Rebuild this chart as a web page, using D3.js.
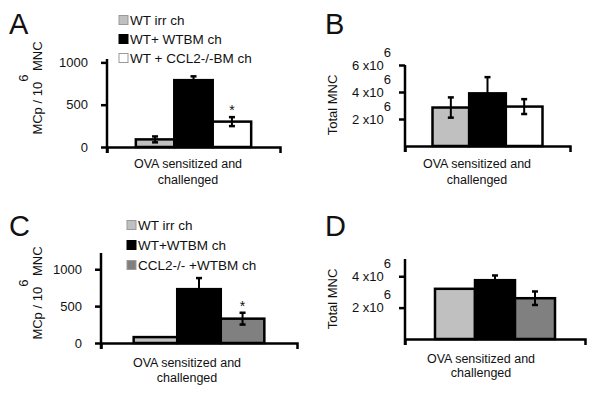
<!DOCTYPE html>
<html>
<head>
<meta charset="utf-8">
<script src="https://cdn.jsdelivr.net/npm/d3@7"></script>
<style>
  body { margin: 0; background: #fff; }
  svg text { font-family: "Liberation Sans", Arial, Helvetica, sans-serif; fill: #111; }
</style>
</head>
<body>
<div class="container"></div>
<script>
// groups (legend entries)
const groupsAB = ['WT irr ch', 'WT+ WTBM ch', 'WT + CCL2-/-BM ch'];
const groupsCD = ['WT irr ch', 'WT+WTBM ch', 'CCL2-/- +WTBM ch'];

// panel A: MCp / 10^6 MNC
const mcpA = [90, 790, 300];
const mcpAErr = [35, 45, 53];
// panel B: total MNC
const mncB = [2.85e6, 3.9e6, 2.92e6];
const mncBErr = [0.75e6, 1.2e6, 0.55e6];
// panel C: MCp / 10^6 MNC
const mcpC = [80, 730, 330];
const mcpCErr = [0, 150, 80];
// panel D: total MNC
const mncD = [3.2e6, 3.75e6, 2.6e6];
const mncDErr = [0, 0.3e6, 0.43e6];

const ticksMcp = [0, 500, 1000];
const ticksB = [2e6, 4e6, 6e6];
const ticksD = [2e6, 4e6];
const xLabel = ['OVA sensitized and', 'challenged'];

const fillsAB = ['#c0c0c0', '#000000', '#ffffff'];
const fillsCD = ['#c0c0c0', '#000000', '#808080'];

const width = 601;
const height = 397;

const svg = d3.select('.container')
    .append('svg')
    .attr('width', width)
    .attr('height', height);

function drawPanel(p) {
    const g = svg.append('g');

    const x = d3.scaleBand()
        .domain(p.groups)
        .range([p.left, p.right])
        .paddingInner(0)
        .paddingOuter(0.75);

    const y = d3.scaleLinear()
        .domain([0, p.yMax])
        .range([p.bottom, p.top]);

    // bars
    g.selectAll('rect.bar')
        .data(p.values)
        .join('rect')
        .attr('class', 'bar')
        .attr('x', (d, i) => x(p.groups[i]))
        .attr('y', d => y(d))
        .attr('width', x.bandwidth())
        .attr('height', d => y(0) - y(d))
        .attr('fill', (d, i) => p.fills[i])
        .attr('stroke', '#000')
        .attr('stroke-width', 2.5);

    // error bars
    p.values.forEach((v, i) => {
        const e = p.errs[i];
        if (!e) return;
        const cx = x(p.groups[i]) + x.bandwidth() / 2;
        g.append('line')
            .attr('x1', cx).attr('x2', cx)
            .attr('y1', y(v - e)).attr('y2', y(v + e))
            .attr('stroke', '#000').attr('stroke-width', 2);
        [v - e, v + e].forEach(t => {
            g.append('line')
                .attr('x1', cx - 3).attr('x2', cx + 3)
                .attr('y1', y(t)).attr('y2', y(t))
                .attr('stroke', '#000').attr('stroke-width', 2.5);
        });
    });

    // significance star
    if (p.star != null) {
        const i = p.star;
        g.append('text')
            .attr('x', x(p.groups[i]) + x.bandwidth() / 2)
            .attr('y', y(p.values[i] + p.errs[i]) - 2)
            .attr('text-anchor', 'middle')
            .attr('font-size', 14)
            .text('*');
    }

    // y axis
    const yAxis = d3.axisLeft(y)
        .tickValues(p.ticks)
        .tickSize(6)
        .tickPadding(p.tickPad)
        .tickFormat(p.fmt);

    const gy = g.append('g')
        .attr('transform', `translate(${p.left}, 0)`)
        .call(yAxis);
    gy.select('.domain').remove();
    gy.selectAll('.tick line').attr('stroke', '#000').attr('stroke-width', 2.5);
    gy.selectAll('.tick text')
        .attr('font-size', 13)
        .attr('fill', '#111');

    if (p.sup) {
        gy.selectAll('.tick text').each(function (d) {
            const t = d3.select(this).text(null);
            t.append('tspan').text(`${d / 1e6} x10`);
            t.append('tspan').attr('dy', -13).text('6');
        });
    }

    g.append('line')
        .attr('x1', p.left).attr('x2', p.left)
        .attr('y1', y(p.yMax)).attr('y2', y(0) + 6)
        .attr('stroke', '#000').attr('stroke-width', 2.5);

    // x axis
    const gx = g.append('g')
        .attr('transform', `translate(0, ${y(0)})`)
        .call(d3.axisBottom(x).tickValues([]).tickSizeOuter(6));
    gx.select('.domain').attr('stroke', '#000').attr('stroke-width', 2.5);

    // y title
    const yt = g.append('text')
        .attr('transform', `translate(${p.titleX}, ${p.titleY}) rotate(-90)`)
        .attr('text-anchor', 'middle')
        .attr('font-size', 13);
    p.title.forEach(part => {
        const s = yt.append('tspan').text(part.text);
        if (part.dy) s.attr('dy', part.dy);
    });

    // x label
    xLabel.forEach((line, k) => {
        g.append('text')
            .attr('x', p.labelX)
            .attr('y', p.labelY + k * p.labelGap)
            .attr('text-anchor', 'middle')
            .attr('font-size', 12.5)
            .text(line);
    });

    // panel letter
    g.append('text')
        .attr('x', p.letterX)
        .attr('y', p.letterY)
        .attr('font-size', 29)
        .text(p.letter);

    // legend
    if (p.legend) {
        p.groups.forEach((name, i) => {
            const ly = p.legend.y + i * p.legend.gap;
            g.append('rect')
                .attr('x', p.legend.x).attr('y', ly - 4.5)
                .attr('width', 9).attr('height', 9)
                .attr('fill', p.fills[i])
                .attr('stroke', i === 1 ? '#000' : '#999')
                .attr('stroke-width', 1);
            g.append('text')
                .attr('x', p.legend.x + 11)
                .attr('y', ly + 5)
                .attr('font-size', 13.5)
                .text(name);
        });
    }
}

const mcpTitle = [{ text: 'MCp / 10' }, { text: '6', dy: -14 }, { text: ' MNC', dy: 14 }];
const mncTitle = [{ text: 'Total MNC' }];

drawPanel({
    letter: 'A', letterX: 9, letterY: 34,
    groups: groupsAB, values: mcpA, errs: mcpAErr, fills: fillsAB, star: 2,
    left: 107, right: 280, bottom: 147, top: 59, yMax: 1040,
    ticks: ticksMcp, tickPad: 13, fmt: d3.format('d'),
    title: mcpTitle, titleX: 42, titleY: 88,
    labelX: 188, labelY: 168, labelGap: 16,
    legend: { x: 119, y: 20, gap: 19 }
});

drawPanel({
    letter: 'B', letterX: 325, letterY: 34,
    groups: groupsAB, values: mncB, errs: mncBErr, fills: fillsAB,
    left: 405, right: 570, bottom: 146, top: 65, yMax: 6e6,
    ticks: ticksB, tickPad: 8, fmt: d3.format('d'), sup: true,
    title: mncTitle, titleX: 337, titleY: 105,
    labelX: 477, labelY: 168, labelGap: 16
});

drawPanel({
    letter: 'C', letterX: 9, letterY: 236,
    groups: groupsCD, values: mcpC, errs: mcpCErr, fills: fillsCD, star: 2,
    left: 101, right: 297, bottom: 343, top: 253, yMax: 1220,
    ticks: ticksMcp, tickPad: 13, fmt: d3.format('d'),
    title: mcpTitle, titleX: 42, titleY: 293,
    labelX: 187, labelY: 367, labelGap: 15,
    legend: { x: 127, y: 225, gap: 20 }
});

drawPanel({
    letter: 'D', letterX: 325, letterY: 236,
    groups: groupsCD, values: mncD, errs: mncDErr, fills: fillsCD,
    left: 405, right: 585, bottom: 339, top: 259, yMax: 5.1e6,
    ticks: ticksD, tickPad: 8, fmt: d3.format('d'), sup: true,
    title: mncTitle, titleX: 337, titleY: 299,
    labelX: 481, labelY: 363, labelGap: 14
});
</script>
</body>
</html>
